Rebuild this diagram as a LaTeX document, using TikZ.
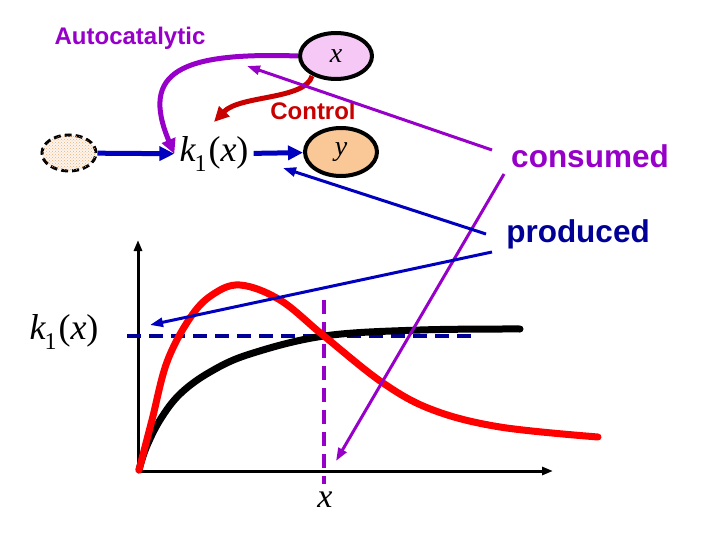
\documentclass[tikz,border=0pt]{standalone}
\usepackage{fontspec}
\setmainfont{Liberation Serif}
\setsansfont{Liberation Sans}
\usetikzlibrary{arrows.meta,patterns,shapes.geometric}

\definecolor{autoPurple}{RGB}{150,0,200}
\definecolor{arrowBlue}{RGB}{0,0,190}
\definecolor{textBlue}{RGB}{0,0,150}
\definecolor{controlRed}{RGB}{200,0,0}
\definecolor{xFill}{RGB}{245,200,245}
\definecolor{yFill}{RGB}{250,200,150}
\definecolor{srcDots}{RGB}{235,175,115}

\newcommand{\kx}{{\itshape k}\kern-1pt\raisebox{-0.3em}{\fontsize{24}{24}\selectfont 1}\kern2pt({\itshape x})}

\begin{document}
\begin{tikzpicture}[x=1pt,y=-1pt,
	bubble/.style={ellipse,draw=black,line width=4,inner sep=0pt,font=\fontsize{28}{30}\selectfont\itshape},
	label/.style={font=\sffamily\bfseries\fontsize{24}{26}\selectfont},
	biglabel/.style={font=\sffamily\bfseries\fontsize{31.5}{34}\selectfont},
	flow/.style={arrowBlue,line width=5,-{Triangle[length=15,width=14]}},
	pointer/.style={line width=3,-{Triangle[length=13,width=9]}},
	curve/.style={line width=7,line cap=round,line join=round}]
\useasboundingbox (0,0) rectangle (720,540);

% reaction scheme
\node[bubble,fill=xFill,minimum width=72,minimum height=46] (xnode) at (336,56) {x};
\node[bubble,fill=yFill,minimum width=72,minimum height=48] (ynode) at (341,152) {y};
\node[ellipse,draw=black,line width=3,dash pattern=on 7 off 4,minimum width=54,minimum height=36,fill=srcDots!12,
	postaction={pattern=crosshatch dots,pattern color=srcDots}] (src) at (69,153) {};
\node[font=\fontsize{36}{38}\selectfont,inner sep=5pt] (k1) at (214,154) {\kx};
\node[label,autoPurple] (auto) at (130,38) {Autocatalytic};
\node[label,controlRed] (ctrl) at (313,111) {Control};
\node[biglabel,autoPurple] (consumed) at (590,156) {consumed};
\node[biglabel,textBlue] (produced) at (578,234) {produced};

\draw[flow] (src) -- (k1);
\draw[flow] (k1) -- (ynode);
\draw[autoPurple,line width=5,-{Triangle[length=15,width=14]}] (xnode.west) .. controls (180,52) and (140,72) .. (k1.west);
\coordinate (ctrl end) at (214,122);
\draw[controlRed,line width=5,-{Triangle[length=15,width=14]}] (312,76) .. controls (305,100) and (240,95) .. (ctrl end);

% plot
\coordinate (O) at (138,471);
\coordinate (ytop) at (138,240);
\coordinate (xend) at (553,471);
\draw[line width=3,-{Triangle[length=11,width=8]}] (O) -- (ytop);
\draw[line width=3,-{Triangle[length=11,width=8]}] (O) -- (xend);
\node[font=\fontsize{36}{38}\selectfont] (kl) at (64,332) {\kx};
\node[font=\fontsize{34}{36}\selectfont\itshape] (xl) at (325,500) {x};
\coordinate (hl a) at (127,336);
\coordinate (hl b) at (474,336);
\coordinate (vl a) at (324,300);
\coordinate (vl b) at (324,484);
\draw[textBlue,line width=4,dash pattern=on 14 off 8] (hl a) -- (hl b);
\draw[autoPurple,line width=3.5,dash pattern=on 14 off 8] (vl a) -- (vl b);

\draw[curve,black] plot[smooth,tension=0.6] coordinates {(139,470) (146,448) (160,420) (180,394) (210,372) (250,354) (324,336) (420,330) (520,329)};
\draw[curve,red] plot[smooth,tension=0.6] coordinates {(139,470) (152,420) (167,362) (190,318) (212,295) (240,285) (280,300) (324,336) (383,383) (433,410) (500,427) (598,437)};

% pointers
\coordinate (cons a) at (492,150);
\coordinate (cons tip a) at (247,66);
\coordinate (cons b) at (504,174);
\coordinate (cons tip b) at (336,461);
\coordinate (prod a) at (486,234);
\coordinate (prod tip a) at (283,168);
\coordinate (prod b) at (492,252);
\coordinate (prod tip b) at (150,325);
\draw[pointer,autoPurple] (cons a) -- (cons tip a);
\draw[pointer,autoPurple] (cons b) -- (cons tip b);
\draw[pointer,arrowBlue] (prod a) -- (prod tip a);
\draw[pointer,arrowBlue] (prod b) -- (prod tip b);
\end{tikzpicture}
\end{document}
